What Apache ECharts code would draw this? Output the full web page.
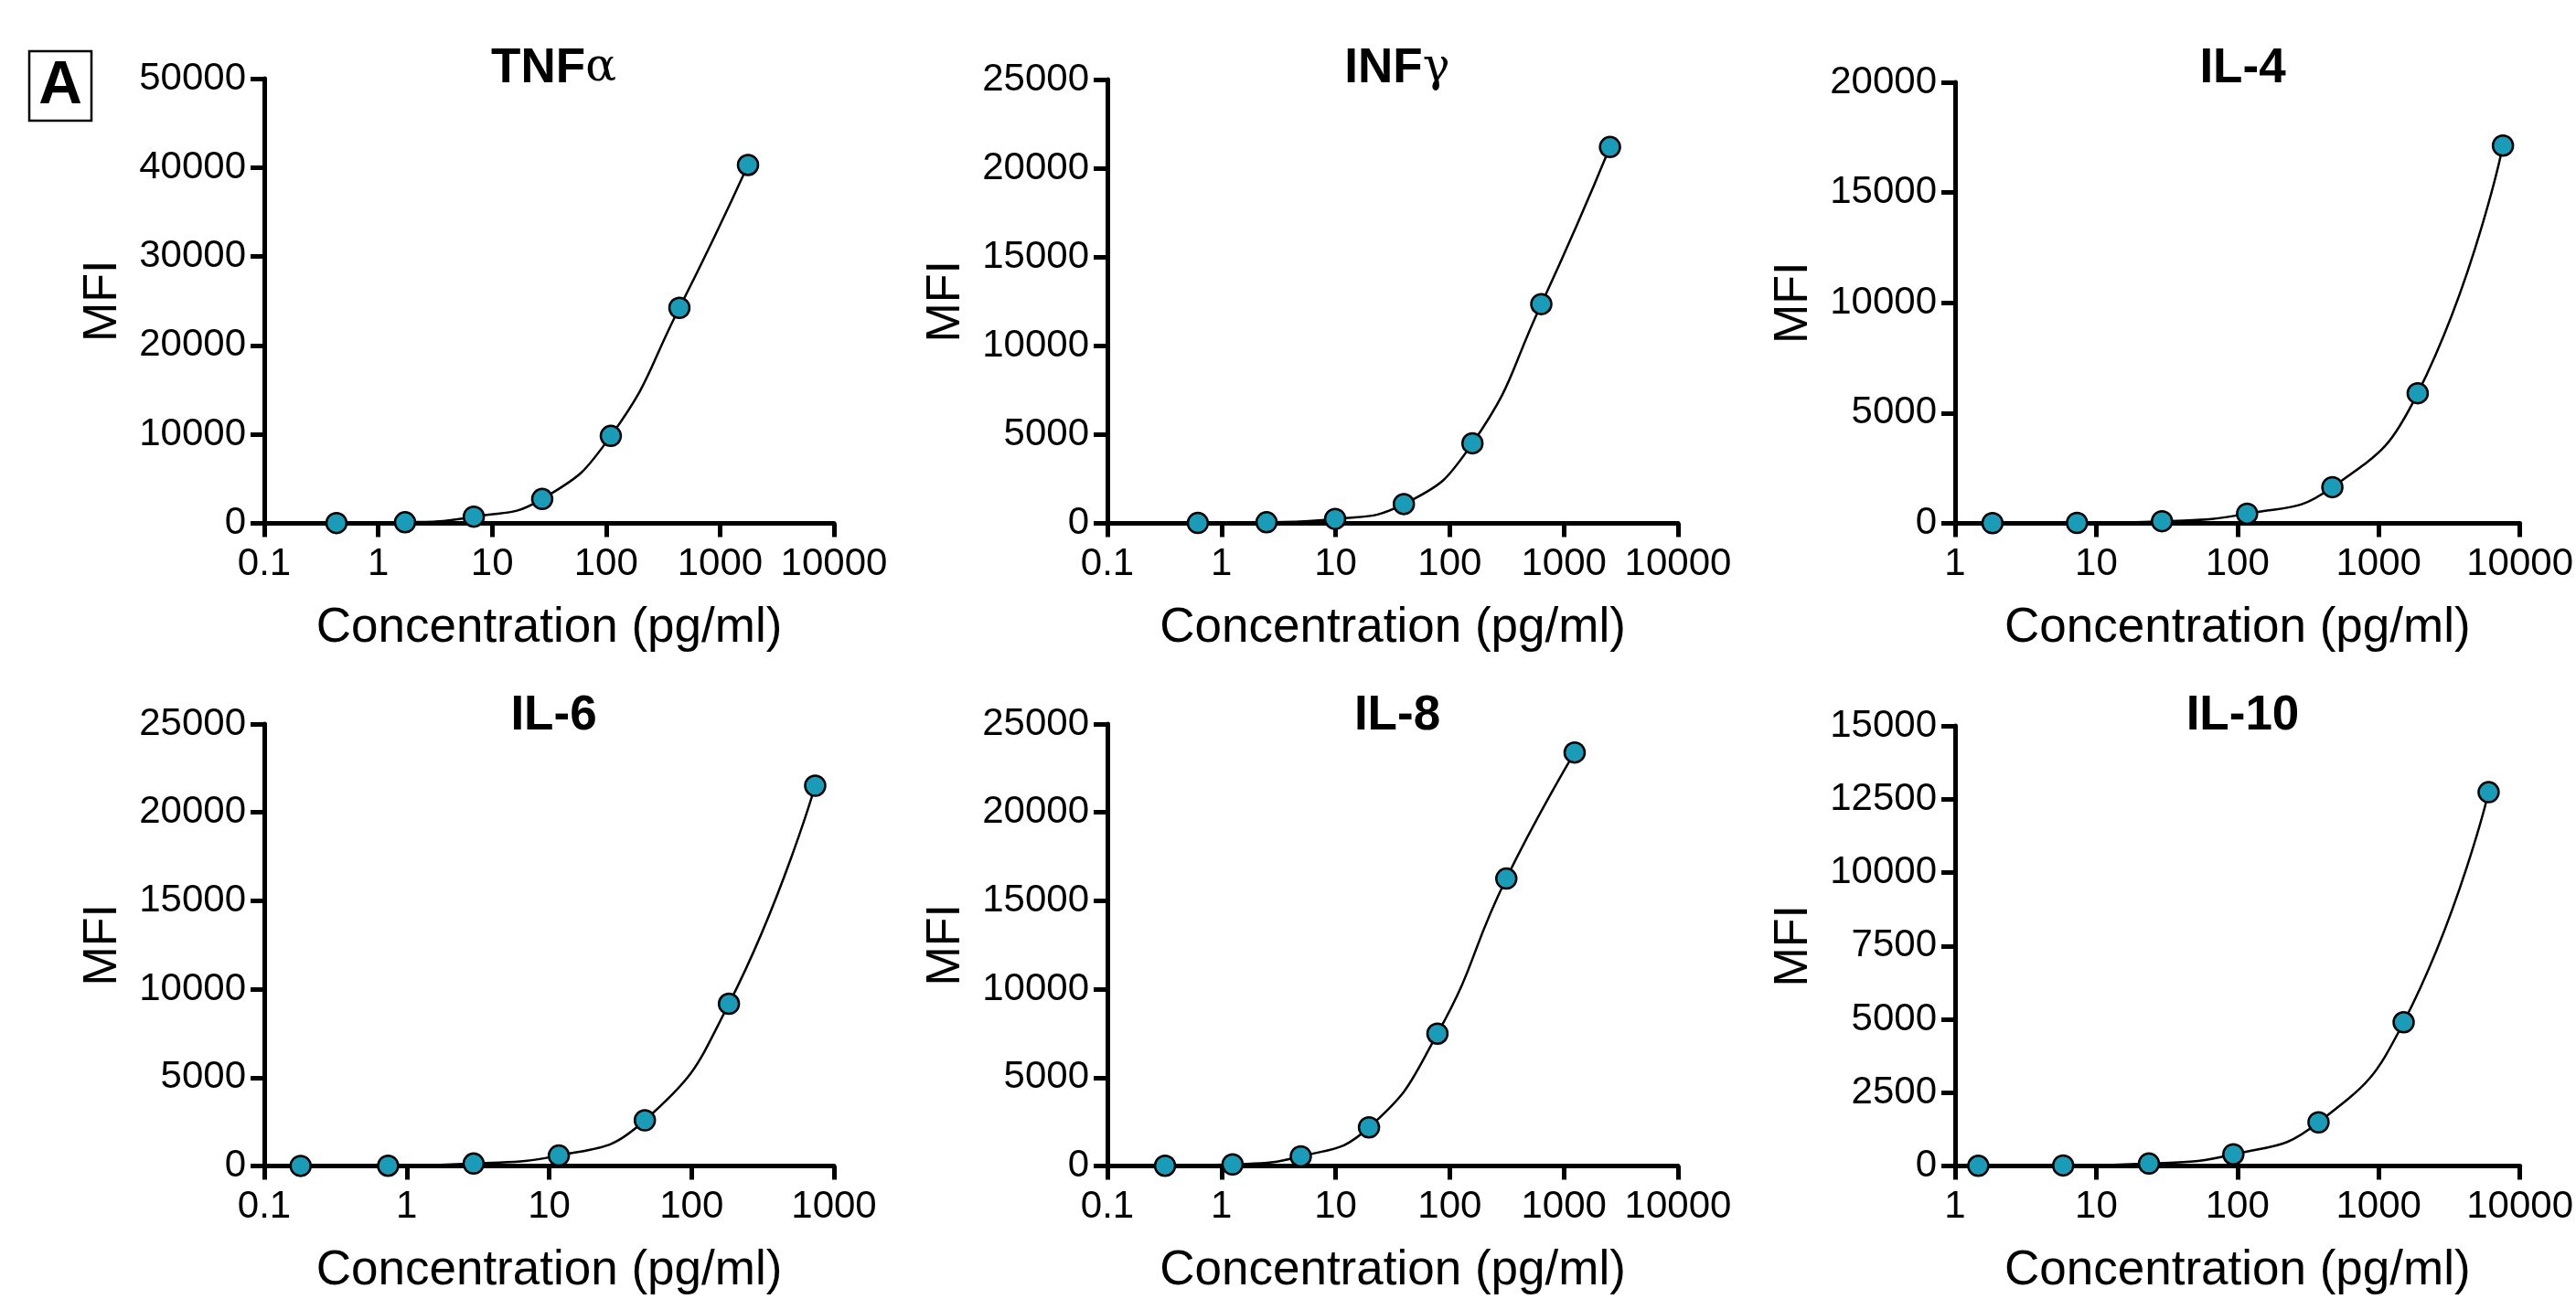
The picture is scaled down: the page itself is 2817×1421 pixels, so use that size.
<!DOCTYPE html>
<html>
<head>
<meta charset="utf-8">
<script src="https://cdn.jsdelivr.net/npm/echarts@6/dist/echarts.min.js"></script>
<style>
html,body{margin:0;padding:0;background:#fff;}
#chart{width:2817px;height:1421px;}
</style>
</head>
<body>
<div id="chart"></div>
<script>
// ---- Data ----
const panelTitles = ['TNF|α', 'INF|γ', 'IL-4|', 'IL-6|', 'IL-8|', 'IL-10|'];

const tnfConc  = [0.43, 1.72, 6.9, 27.5, 110, 440, 1760];
const tnfMFI   = [30, 120, 750, 2740, 9830, 24230, 40290];

const infConc  = [0.62, 2.48, 9.9, 39.6, 158, 634, 2535];
const infMFI   = [20, 60, 250, 1085, 4510, 12350, 21200];

const il4Conc  = [1.84, 7.3, 29.2, 117, 470, 1890, 7590];
const il4MFI   = [10, 20, 95, 440, 1640, 5900, 17130];

const il6Conc  = [0.18, 0.74, 2.95, 11.7, 47, 183, 738];
const il6MFI   = [10, 20, 143, 594, 2590, 9180, 21510];

const il8Conc  = [0.32, 1.25, 4.95, 19.6, 78, 313, 1242];
const il8MFI   = [20, 95, 550, 2190, 7490, 16260, 23390];

const il10Conc = [1.46, 5.83, 23.6, 93.5, 375, 1503, 6010];
const il10MFI  = [10, 20, 86, 401, 1490, 4900, 12740];

const xTicksA = ['0.1', '1', '10', '100', '1000', '10000'];
const xTicksB = ['1', '10', '100', '1000', '10000'];
const xTicksC = ['0.1', '1', '10', '100', '1000'];

const yTicksTNF  = [0, 10000, 20000, 30000, 40000, 50000];
const yTicks25k  = [0, 5000, 10000, 15000, 20000, 25000];
const yTicks20k  = [0, 5000, 10000, 15000, 20000];
const yTicks15k  = [0, 2500, 5000, 7500, 10000, 12500, 15000];

const xAxisTitle = 'Concentration (pg/ml)';
const yAxisTitle = 'MFI';
const panelLetter = 'A';

// ---- Layout (presentation only) ----
const panels = [
  {conc: tnfConc,  mfi: tnfMFI,  xt: xTicksA, yt: yTicksTNF, grid: {left: 289,  top: 86,  width: 623, height: 486.5}},
  {conc: infConc,  mfi: infMFI,  xt: xTicksA, yt: yTicks25k, grid: {left: 1211, top: 87,  width: 624, height: 485.5}},
  {conc: il4Conc,  mfi: il4MFI,  xt: xTicksB, yt: yTicks20k, grid: {left: 2138, top: 90,  width: 619, height: 482.5}},
  {conc: il6Conc,  mfi: il6MFI,  xt: xTicksC, yt: yTicks25k, grid: {left: 289,  top: 792, width: 623, height: 483.6}},
  {conc: il8Conc,  mfi: il8MFI,  xt: xTicksA, yt: yTicks25k, grid: {left: 1211, top: 792, width: 624, height: 483.6}},
  {conc: il10Conc, mfi: il10MFI, xt: xTicksB, yt: yTicks15k, grid: {left: 2138, top: 794, width: 619, height: 481.6}}
];

const FONT = 'Liberation Sans, Arial, Helvetica, sans-serif';
const LINE_W = 5;
const TEAL = '#1a9bb7';

const grids = [], xAxes = [], yAxes = [], series = [], titles = [];

panels.forEach((p, i) => {
  grids.push(Object.assign({containLabel: false}, p.grid));
  const labels = p.xt;
  const minV = Number(labels[0]);
  const maxV = Number(labels[labels.length - 1]);
  const minExp = Math.round(Math.log10(minV));
  xAxes.push({
    gridIndex: i, type: 'log', logBase: 10, min: minV, max: maxV,
    name: xAxisTitle, nameLocation: 'middle', nameGap: 88,
    nameTextStyle: {fontFamily: FONT, fontSize: 53, color: '#000'},
    axisLine: {show: true, onZero: false, lineStyle: {color: '#000', width: LINE_W}},
    axisTick: {show: true, length: 15, lineStyle: {color: '#000', width: LINE_W}},
    axisLabel: {
      fontFamily: FONT, fontSize: 42, color: '#000', margin: 24,
      formatter: v => labels[Math.round(Math.log10(v)) - minExp] ?? ''
    },
    splitLine: {show: false}, minorTick: {show: false}
  });
  const yt = p.yt;
  yAxes.push({
    gridIndex: i, type: 'value', min: yt[0], max: yt[yt.length - 1], interval: yt[1] - yt[0],
    name: yAxisTitle, nameLocation: 'middle', nameGap: 150,
    nameTextStyle: {fontFamily: FONT, fontSize: 52, color: '#000'},
    axisLine: {show: true, lineStyle: {color: '#000', width: LINE_W}},
    axisTick: {show: true, length: 15, lineStyle: {color: '#000', width: LINE_W}},
    axisLabel: {fontFamily: FONT, fontSize: 42, color: '#000', margin: 20, formatter: v => String(v)},
    splitLine: {show: false}
  });
  series.push({
    type: 'line', xAxisIndex: i, yAxisIndex: i,
    data: p.conc.map((c, k) => [c, p.mfi[k]]),
    smooth: 0.5, clip: false,
    symbol: 'circle', symbolSize: 22,
    lineStyle: {color: '#000', width: 2.5},
    itemStyle: {color: TEAL, borderColor: '#000', borderWidth: 2.5},
    z: 3
  });
  const parts = panelTitles[i].split('|');
  const g = p.grid;
  titles.push({
    text: '{b|' + parts[0] + '}' + (parts[1] ? '{g|' + parts[1] + '}' : ''),
    left: g.left + g.width / 2, textAlign: 'center',
    top: (i < 3 ? 78 : 786) - 34,
    textStyle: {
      rich: {
        b: {fontFamily: FONT, fontWeight: 'bold', fontSize: 53, color: '#000'},
        g: {fontFamily: 'DejaVu Serif, serif', fontWeight: 'normal', fontSize: 50, color: '#000'}
      }
    }
  });
});

const chart = echarts.init(document.getElementById('chart'), null, {renderer: 'canvas'});
chart.setOption({
  backgroundColor: '#fff',
  animation: false,
  title: titles,
  grid: grids,
  xAxis: xAxes,
  yAxis: yAxes,
  series: series,
  graphic: [
    {type: 'rect', shape: {x: 32, y: 56, width: 68, height: 76},
     style: {fill: '#fff', stroke: '#000', lineWidth: 2.5}},
    {type: 'text', x: 66, y: 95,
     style: {text: panelLetter, fontFamily: FONT, fontWeight: 'bold', fontSize: 66,
             fill: '#000', align: 'center', verticalAlign: 'middle'}}
  ]
});
</script>
</body>
</html>
